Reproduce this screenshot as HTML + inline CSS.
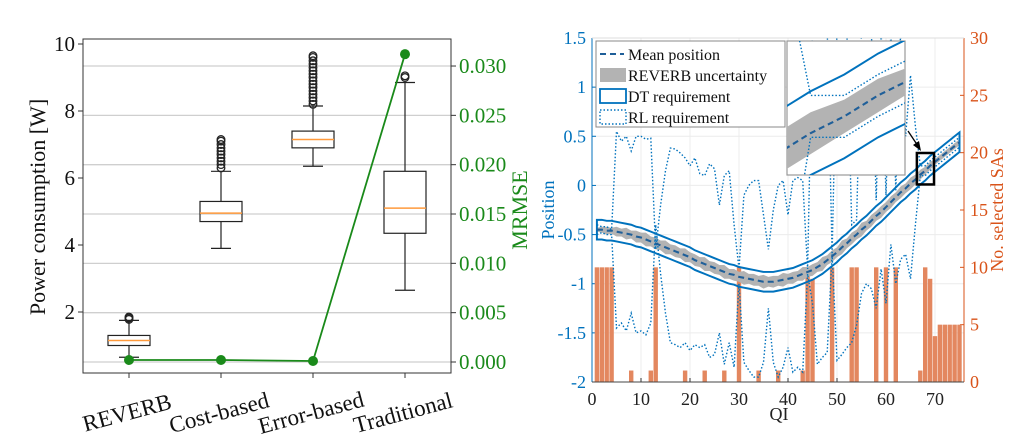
<!DOCTYPE html>
<html><head><meta charset="utf-8">
<style>
html,body{margin:0;padding:0;background:#fff;overflow:hidden;}
svg{display:block;font-family:"Liberation Serif",serif;}
</style></head>
<body>
<svg id="fig" width="1027" height="443" viewBox="0 0 1027 443" xmlns="http://www.w3.org/2000/svg">
<defs>
<clipPath id="mainClip"><rect x="592" y="38" width="372" height="344"/></clipPath>
<clipPath id="insetClip"><rect x="787" y="41" width="118" height="134"/></clipPath>
</defs>
<g id="left"></g>
<g id="right"></g>
</svg>
<script>
// ---------- Left chart data ----------
const methods = ["REVERB","Cost-based","Error-based","Traditional"];
const boxQ1 = [1.0, 4.7, 6.9, 4.35];
const boxMedian = [1.15, 4.95, 7.15, 5.1];
const boxQ3 = [1.3, 5.3, 7.4, 6.2];
const whiskerLow = [0.65, 3.9, 6.35, 2.65];
const whiskerHigh = [1.75, 6.2, 8.15, 8.85];
const outliersReverb = [1.78, 1.82, 1.85];
const outliersCost = [6.3, 6.4, 6.5, 6.6, 6.7, 6.8, 6.9, 7.0, 7.1, 7.15];
const outliersError = [8.2, 8.3, 8.4, 8.5, 8.6, 8.7, 8.8, 8.9, 9.0, 9.1, 9.2, 9.3, 9.4, 9.5, 9.6, 9.65];
const outliersTrad = [9.0, 9.05];
const mrmse = [0.0002, 0.0002, 0.0001, 0.0312];
const powerTicks = [2, 4, 6, 8, 10];
const mrmseTicks = [0.000, 0.005, 0.010, 0.015, 0.020, 0.025, 0.030];

// ---------- Right chart data ----------
const qiTicks = [0,10,20,30,40,50,60,70];
const posTicks = [1.5,1,0.5,0,-0.5,-1,-1.5,-2];
const saTicks = [0,5,10,15,20,25,30];
const meanPos = [-0.45,-0.45,-0.46,-0.46,-0.47,-0.48,-0.49,-0.50,-0.52,-0.53,-0.55,-0.57,-0.59,-0.61,-0.63,-0.65,-0.67,-0.69,-0.71,-0.73,-0.76,-0.78,-0.80,-0.82,-0.84,-0.86,-0.88,-0.90,-0.91,-0.93,-0.94,-0.95,-0.96,-0.97,-0.98,-0.98,-0.98,-0.97,-0.96,-0.95,-0.94,-0.92,-0.90,-0.88,-0.86,-0.83,-0.80,-0.76,-0.72,-0.68,-0.63,-0.59,-0.54,-0.50,-0.45,-0.41,-0.36,-0.31,-0.27,-0.22,-0.17,-0.12,-0.07,-0.03,0.02,0.06,0.11,0.15,0.20,0.24,0.28,0.32,0.36,0.40,0.44];
const uncHalf = [0.02,0.03,0.04,0.03,0.05,0.04,0.06,0.04,0.06,0.05,0.07,0.05,0.06,0.05,0.07,0.05,0.06,0.05,0.07,0.05,0.06,0.05,0.07,0.05,0.06,0.05,0.07,0.05,0.06,0.05,0.07,0.05,0.06,0.05,0.07,0.05,0.06,0.05,0.07,0.05,0.06,0.05,0.07,0.05,0.06,0.05,0.07,0.05,0.06,0.05,0.07,0.05,0.06,0.05,0.07,0.05,0.06,0.05,0.06,0.05,0.06,0.05,0.06,0.05,0.06,0.05,0.05,0.04,0.04,0.03,0.03,0.03,0.03,0.03,0.03];
const dtHalf = 0.1;
const rlUpper = [-0.40,-0.42,-0.42,-0.45,0.55,0.45,0.50,0.35,0.50,0.50,0.47,0.48,-0.65,-0.2,0.15,0.38,0.37,0.33,0.28,0.20,0.28,0.12,0.10,0.22,0.17,-0.20,0.10,0.15,-0.40,-0.85,-0.10,0.00,0.05,0.05,-0.30,-0.65,-0.25,0.00,0.05,-0.30,0.05,0.08,0.05,-0.85,1.6,1.6,1.6,1.6,-0.70,1.6,1.6,1.6,-0.40,-0.35,1.6,1.6,1.6,-0.15,1.6,-0.10,1.6,-0.05,1.6,0.5,1.12,0.6,0.2,0.2,0.25,0.29,0.33,0.37,0.41,0.45,0.49];
const rlLower = [-0.50,-0.48,-0.50,-0.50,-1.45,-1.40,-1.48,-1.30,-1.50,-1.48,-1.52,-1.40,-0.40,-0.9,-1.3,-1.60,-1.62,-1.65,-1.60,-1.68,-1.62,-1.65,-1.62,-1.75,-1.72,-1.50,-1.82,-1.60,-1.85,-1.00,-1.80,-1.88,-1.95,-1.95,-1.80,-1.25,-1.80,-1.95,-1.85,-1.65,-1.90,-1.85,-1.90,-0.90,-1.20,-1.82,-1.75,-1.70,-0.70,-1.78,-1.72,-1.65,-1.60,-1.42,-1.10,-1.00,-1.05,-1.25,-0.85,-1.20,-0.60,-1.00,-0.75,-0.70,-0.95,-0.40,0.10,0.10,0.15,0.19,0.23,0.27,0.31,0.35,0.39];
const saCounts = [10,10,10,10,0,0,0,1,0,0,0,1,10,0,0,0,0,0,1,0,0,0,1,0,0,0,1,0,0,10,0,0,0,1,0,0,0,1,0,0,0,0,1,10,9,0,0,0,10,0,0,0,10,10,0,0,0,10,0,10,0,10,0,0,0,0,1,10,9,4,5,5,5,5,5];

const NS = "http://www.w3.org/2000/svg";
function mk(parent, tag, attrs, text){
  const el = document.createElementNS(NS, tag);
  for (const k in attrs) el.setAttribute(k, attrs[k]);
  if (text !== undefined) el.textContent = text;
  parent.appendChild(el);
  return el;
}
const L = document.getElementById('left');
const R = document.getElementById('right');

// ---- Left axes ----
const lx0 = 83, lx1 = 451, ly0 = 39, ly1 = 373;
const powY = v => 379 - v * 33.5;
const mrY = v => 362 - v / 0.005 * 49.33;
const catX = i => 129 + i * 92;
const GREEN = "#1a8a1a";

mrmseTicks.forEach(t => {
  const g = mk(L,'line',{x1:lx0,x2:lx1,y1:mrY(t),y2:mrY(t),stroke:"#cfcfcf","stroke-width":1.3});
  
  
});
const lframe = mk(L,'rect',{x:lx0,y:ly0,width:lx1-lx0,height:ly1-ly0,fill:"none",stroke:"#333","stroke-width":1});



powerTicks.forEach(t => {
  const y = powY(t);
  mk(L,'line',{x1:lx0-5,x2:lx0,y1:y,y2:y,stroke:"#333"});
  const tx = mk(L,'text',{x:lx0-8,y:y+7,"text-anchor":"end","font-size":21,fill:"#111"}, String(t));
  
  
});
mrmseTicks.forEach(t => {
  const y = mrY(t);
  mk(L,'line',{x1:lx1,x2:lx1+5,y1:y,y2:y,stroke:"#333"});
  const tx = mk(L,'text',{x:lx1+8,y:y+7,"font-size":21,fill:GREEN}, t.toFixed(3));
  
  
});
const ylab = mk(L,'text',{x:0,y:0,transform:"translate(45,207) rotate(-90)","text-anchor":"middle","font-size":22,fill:"#111"},"Power consumption [W]");


const ylab2 = mk(L,'text',{x:0,y:0,transform:"translate(527,210) rotate(-90)","text-anchor":"middle","font-size":22,fill:GREEN},"MRMSE");



const outs = [outliersReverb, outliersCost, outliersError, outliersTrad];
methods.forEach((m,i) => {
  const x = catX(i), hw = 21;
  mk(L,'line',{x1:x,x2:x,y1:ly1,y2:ly1+5,stroke:"#333"});
  const lab = mk(L,'text',{x:0,y:0,transform:`translate(${x},${ly1+47}) rotate(-15)`,"text-anchor":"middle","font-size":23,fill:"#111"}, m);
  
  
  const g = mk(L,'g',{});
  
  
  mk(g,'line',{x1:x,x2:x,y1:powY(whiskerLow[i]),y2:powY(boxQ1[i]),stroke:"#222","stroke-width":1.2});
  mk(g,'line',{x1:x,x2:x,y1:powY(boxQ3[i]),y2:powY(whiskerHigh[i]),stroke:"#222","stroke-width":1.2});
  mk(g,'line',{x1:x-10,x2:x+10,y1:powY(whiskerLow[i]),y2:powY(whiskerLow[i]),stroke:"#222","stroke-width":1.2});
  mk(g,'line',{x1:x-10,x2:x+10,y1:powY(whiskerHigh[i]),y2:powY(whiskerHigh[i]),stroke:"#222","stroke-width":1.2});
  mk(g,'rect',{x:x-hw,y:powY(boxQ3[i]),width:2*hw,height:powY(boxQ1[i])-powY(boxQ3[i]),fill:"none",stroke:"#222","stroke-width":1.2});
  mk(g,'line',{x1:x-hw,x2:x+hw,y1:powY(boxMedian[i]),y2:powY(boxMedian[i]),stroke:"#ff9a3c","stroke-width":1.5});
  outs[i].forEach(v => {
    const c = mk(g,'circle',{cx:x,cy:powY(v),r:3.8,fill:"none",stroke:"#222","stroke-width":1.3});
    
    
  });
});
const mline = mk(L,'polyline',{points:mrmse.map((v,i)=>catX(i)+","+mrY(v)).join(" "),fill:"none",stroke:GREEN,"stroke-width":1.8});


mrmse.forEach((v,i) => {
  const c = mk(L,'circle',{cx:catX(i),cy:mrY(v),r:5,fill:GREEN});
  
  
});

// ---- Right axes ----
const rx0 = 592, rx1 = 964, ry0 = 38, ry1 = 382;
const BLUE = "#0072BD", ORANGE = "#D95319";
const qX = q => rx0 + q * 4.9;
const pY = p => ry0 + (1.5 - p) * 98.29;
const sY = s => ry1 - s * (ry1 - ry0) / 30;

qiTicks.forEach(t => {
  const gl = mk(R,'line',{x1:qX(t),x2:qX(t),y1:ry0,y2:ry1,stroke:"#ececec"});
  
  
  mk(R,'line',{x1:qX(t),x2:qX(t),y1:ry1,y2:ry1-4,stroke:"#333"});
  const tx = mk(R,'text',{x:qX(t),y:ry1+23,"text-anchor":"middle","font-size":18,fill:"#222"},String(t));
  
  
});
posTicks.forEach(t => {
  const gl = mk(R,'line',{x1:rx0,x2:rx1,y1:pY(t),y2:pY(t),stroke:"#ececec"});
  
  
  mk(R,'line',{x1:rx0,x2:rx0+4,y1:pY(t),y2:pY(t),stroke:BLUE});
  const tx = mk(R,'text',{x:rx0-6,y:pY(t)+6,"text-anchor":"end","font-size":18,fill:BLUE},String(t));
  
  
});
saTicks.forEach(t => {
  mk(R,'line',{x1:rx1-4,x2:rx1,y1:sY(t),y2:sY(t),stroke:ORANGE});
  const tx = mk(R,'text',{x:rx1+6,y:sY(t)+6,"font-size":18,fill:ORANGE},String(t));
  
  
});

// bars
const barG = mk(R,'g',{"clip-path":"url(#mainClip)"});


saCounts.forEach((v,i) => {
  if (v <= 0) return;
  const q = i + 1;
  const b = mk(barG,'rect',{x:qX(q)-2.2,y:sY(v),width:4.4,height:sY(0)-sY(v),fill:"#E3875F"});
  
  
});

function drawSeries(parent, xf, yf, sw){
  const up = meanPos.map((m,i)=>xf(i+1)+","+yf(m+uncHalf[i]));
  const lo = meanPos.map((m,i)=>xf(i+1)+","+yf(m-uncHalf[i])).reverse();
  const band = mk(parent,'polygon',{points:up.concat(lo).join(" "),fill:"#b3b3b3"});
  
  
  const ru = mk(parent,'polyline',{points:rlUpper.map((v,i)=>xf(i+1)+","+yf(v)).join(" "),fill:"none",stroke:BLUE,"stroke-width":sw,"stroke-dasharray":"1.5 2"});
  
  
  const rl = mk(parent,'polyline',{points:rlLower.map((v,i)=>xf(i+1)+","+yf(v)).join(" "),fill:"none",stroke:BLUE,"stroke-width":sw,"stroke-dasharray":"1.5 2"});
  
  
  const du = meanPos.map((m,i)=>xf(i+1)+","+yf(m+dtHalf));
  const dl = meanPos.map((m,i)=>xf(i+1)+","+yf(m-dtHalf)).reverse();
  const dt = mk(parent,'polygon',{points:du.concat(dl).join(" "),fill:"none",stroke:BLUE,"stroke-width":sw*1.4});
  
  
  const mp = mk(parent,'polyline',{points:meanPos.map((m,i)=>xf(i+1)+","+yf(m)).join(" "),fill:"none",stroke:"#1f5f99","stroke-width":sw*1.5,"stroke-dasharray":"6 4"});
  
  
}
const mainG = mk(R,'g',{"clip-path":"url(#mainClip)"});


drawSeries(mainG, qX, pY, 1.4);

mk(R,'line',{x1:rx0,x2:rx0,y1:ry0,y2:ry1,stroke:BLUE,"stroke-width":1});
mk(R,'line',{x1:rx1,x2:rx1,y1:ry0,y2:ry1,stroke:ORANGE,"stroke-width":1});
mk(R,'line',{x1:rx0,x2:rx1,y1:ry1,y2:ry1,stroke:"#444","stroke-width":1});
mk(R,'line',{x1:rx0,x2:rx1,y1:ry0,y2:ry0,stroke:"#ddd","stroke-width":1});

const t1 = mk(R,'text',{x:0,y:0,transform:"translate(554,210) rotate(-90)","text-anchor":"middle","font-size":18,fill:BLUE},"Position");


const t2 = mk(R,'text',{x:0,y:0,transform:"translate(1003,210) rotate(-90)","text-anchor":"middle","font-size":18,fill:ORANGE},"No. selected SAs");


const t3 = mk(R,'text',{x:779,y:420,"text-anchor":"middle","font-size":18,fill:"#222"},"QI");



const zq0 = 66.3, zq1 = 69.8, zp0 = 0.01, zp1 = 0.33;
const zb = mk(R,'rect',{x:qX(zq0),y:pY(zp1),width:qX(zq1)-qX(zq0),height:pY(zp0)-pY(zp1),fill:"none",stroke:"#000","stroke-width":2.5});


mk(R,'line',{x1:908,y1:131,x2:918,y2:146,stroke:"#000","stroke-width":1.3});
mk(R,'polygon',{points:"921,151 913,145 919,141",fill:"#000"});

const inset = mk(R,'g',{});


mk(inset,'rect',{x:787,y:41,width:118,height:134,fill:"#fff",stroke:"#999","stroke-width":1.2});
const ix = q => 787 + (q - zq0) / (zq1 - zq0) * 118;
const iy = p => 41 + (zp1 - p) / (zp1 - zp0) * 134;
const insetG = mk(inset,'g',{"clip-path":"url(#insetClip)"});
drawSeries(insetG, ix, iy, 1.4);

const lg = mk(R,'g',{});


mk(lg,'rect',{x:596,y:41,width:189,height:86,fill:"#fff",stroke:"#888","stroke-width":1});
const items = ["Mean position","REVERB uncertainty","DT requirement","RL requirement"];
items.forEach((s,i) => {
  const y = 54 + i * 21;
  const e = mk(lg,'g',{});
  
  
  if (i===0) mk(e,'line',{x1:600,x2:624,y1:y,y2:y,stroke:"#1f5f99","stroke-width":2,"stroke-dasharray":"6 4"});
  if (i===1) mk(e,'rect',{x:600,y:y-7,width:26,height:14,fill:"#b3b3b3"});
  if (i===2) mk(e,'rect',{x:600,y:y-7,width:26,height:14,fill:"none",stroke:BLUE,"stroke-width":1.8});
  if (i===3) mk(e,'rect',{x:600,y:y-7,width:26,height:14,fill:"none",stroke:BLUE,"stroke-width":1.4,"stroke-dasharray":"1.5 2"});
  mk(e,'text',{x:628,y:y+6,"font-size":16,fill:"#111"},s);
});
</script>
</body></html>
